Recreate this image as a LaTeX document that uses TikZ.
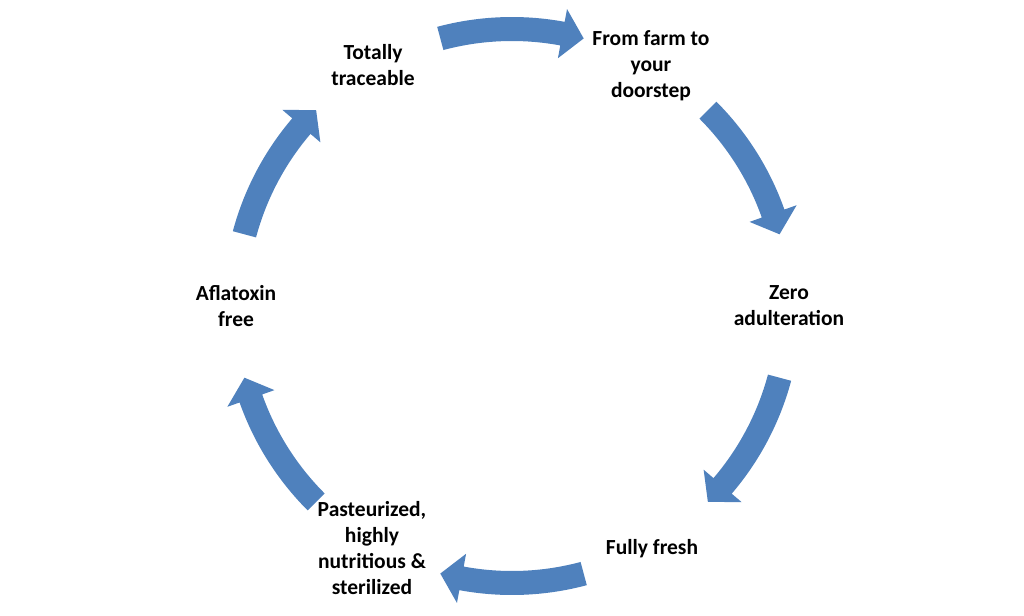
\documentclass[tikz,border=0pt]{standalone}
\usepackage{fontspec}
\setmainfont{Carlito}
\definecolor{cycleblue}{RGB}{79,129,189}
\begin{document}
\begin{tikzpicture}[
    steplabel/.style={align=center, font=\bfseries\fontsize{15.3}{18.5}\selectfont},
    cyclearrow/.style={fill=cycleblue, draw=none}
  ]
  % Page frame, centre of the cycle at the origin
  \useasboundingbox (-12.8,-7.725) rectangle (12.8,7.65);
  \coordinate (c) at (0,0);

  % Labels round the cycle
  \node[steplabel] (trace) at (120:6.95) {Totally\\traceable};
  \node[steplabel] (farm)  at (60:6.95)  {From farm to\\your\\doorstep};
  \node[steplabel] (zero)  at (0:6.925)   {Zero\\adulteration};
  \node[steplabel] (fresh) at (-60:7.0) {Fully fresh};
  \node[steplabel] (past)  at (-120:7.0) {Pasteurized,\\highly\\nutritious \&\\sterilized};
  \node[steplabel] (afla)  at (180:6.9) {Aflatoxin\\free};

  % Curved block arrows between the labels, clockwise
  \foreach \a in {90,30,-30,-90,-150,150}
    \fill[cyclearrow] ({\a+15}:7.225) arc[start angle=\a+15, end angle=\a-10.5, radius=7.225]
      -- ({\a-10.5}:7.55) -- ({\a-15}:6.925) -- ({\a-10.5}:6.3) -- ({\a-10.5}:6.625)
      arc[start angle=\a-10.5, end angle=\a+15, radius=6.625] -- cycle;
\end{tikzpicture}
\end{document}
